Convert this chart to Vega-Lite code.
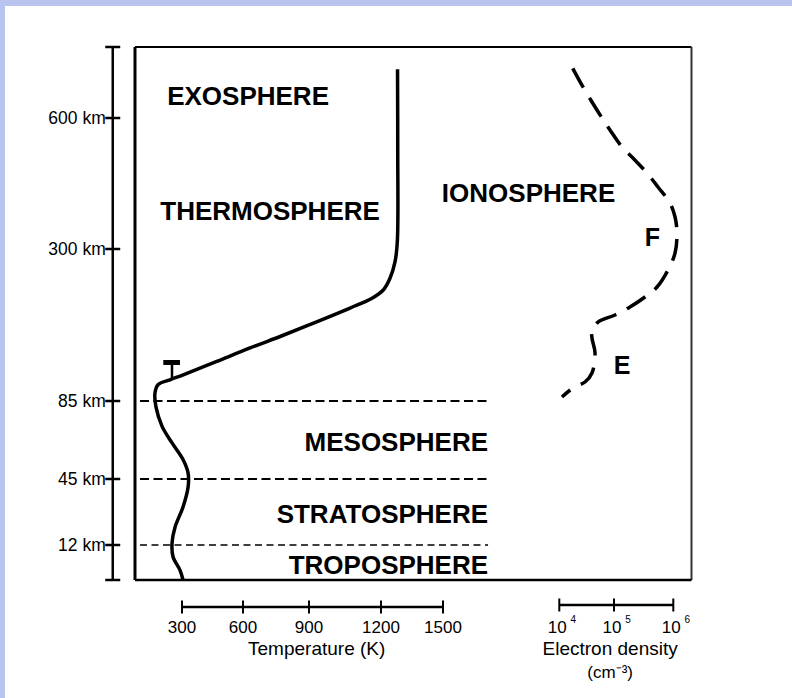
{
  "$schema": "https://vega.github.io/schema/vega-lite/v6.json",
  "width": 787,
  "height": 692,
  "autosize": {"type": "none"},
  "padding": {"left": 5, "top": 6, "right": 0, "bottom": 0},
  "background": "#b9c5ef",
  "config": {"view": {"fill": "white", "stroke": null}, "text": {"font": "Liberation Sans", "color": "black"}},
  "datasets": {
    "one": [{"item": "annotation"}],
    "temp": [
      {"i": 1, "t": 305, "alt": 0}, {"i": 2, "t": 290, "alt": 3.4}, {"i": 3, "t": 256, "alt": 7.9},
      {"i": 4, "t": 251, "alt": 13}, {"i": 5, "t": 266, "alt": 21}, {"i": 6, "t": 305, "alt": 31},
      {"i": 7, "t": 330, "alt": 41}, {"i": 8, "t": 330, "alt": 48}, {"i": 9, "t": 305, "alt": 55},
      {"i": 10, "t": 251, "alt": 63.5}, {"i": 11, "t": 202, "alt": 72}, {"i": 12, "t": 172, "alt": 82},
      {"i": 13, "t": 167, "alt": 96}, {"i": 14, "t": 182, "alt": 108}, {"i": 15, "t": 241, "alt": 115},
      {"i": 16, "t": 306, "alt": 122}, {"i": 17, "t": 471, "alt": 141}, {"i": 18, "t": 632, "alt": 160},
      {"i": 19, "t": 783, "alt": 178}, {"i": 20, "t": 932, "alt": 197}, {"i": 21, "t": 1071, "alt": 216.5},
      {"i": 22, "t": 1161, "alt": 230}, {"i": 23, "t": 1211, "alt": 242}, {"i": 24, "t": 1244, "alt": 259},
      {"i": 25, "t": 1268, "alt": 282}, {"i": 26, "t": 1279, "alt": 317}, {"i": 27, "t": 1281, "alt": 527},
      {"i": 28, "t": 1280, "alt": 710}
    ],
    "dens": [
      {"i": 1, "n": 17600, "alt": 712}, {"i": 2, "n": 27100, "alt": 670}, {"i": 3, "n": 39600, "alt": 636},
      {"i": 4, "n": 60400, "alt": 600}, {"i": 5, "n": 84500, "alt": 572.5}, {"i": 6, "n": 136500, "alt": 533.6},
      {"i": 7, "n": 209000, "alt": 508.4}, {"i": 8, "n": 360000, "alt": 474}, {"i": 9, "n": 552000, "alt": 442},
      {"i": 10, "n": 879000, "alt": 405.3}, {"i": 11, "n": 1070000, "alt": 373.3}, {"i": 12, "n": 1153000, "alt": 336.6},
      {"i": 13, "n": 1070000, "alt": 294.3}, {"i": 14, "n": 815000, "alt": 270.3}, {"i": 15, "n": 531000, "alt": 246.2},
      {"i": 16, "n": 333000, "alt": 232.1}, {"i": 17, "n": 186000, "alt": 218}, {"i": 18, "n": 104000, "alt": 206.6},
      {"i": 19, "n": 51000, "alt": 196.7}, {"i": 20, "n": 39600, "alt": 185.4}, {"i": 21, "n": 39600, "alt": 174.1},
      {"i": 22, "n": 45000, "alt": 152.9}, {"i": 23, "n": 39600, "alt": 124.6}, {"i": 24, "n": 29500, "alt": 111.9},
      {"i": 25, "n": 17800, "alt": 103.4}, {"i": 26, "n": 11200, "alt": 90.7}
    ],
    "altTicks": [
      {"alt": 0, "label": ""}, {"alt": 12, "label": "12 km"}, {"alt": 45, "label": "45 km"},
      {"alt": 85, "label": "85 km"}, {"alt": 300, "label": "300 km"}, {"alt": 600, "label": "600 km"},
      {"alt": 760, "label": ""}
    ],
    "bounds": [{"alt": 85}, {"alt": 45}, {"alt": 12}],
    "tempTicks": [{"t": 300}, {"t": 600}, {"t": 900}, {"t": 1200}, {"t": 1500}],
    "densTicks": [{"n": 10000, "base": "10", "exp": "4"}, {"n": 100000, "base": "10", "exp": "5"}, {"n": 1000000, "base": "10", "exp": "6"}],
    "centerLabels": [
      {"label": "EXOSPHERE", "t": 623, "alt": 629.3},
      {"label": "THERMOSPHERE", "t": 723, "alt": 367},
      {"label": "IONOSPHERE", "t": 1914, "alt": 408.3}
    ],
    "rightLabels": [
      {"label": "MESOSPHERE", "t": 1718, "alt": 59.5},
      {"label": "STRATOSPHERE", "t": 1718, "alt": 22.85},
      {"label": "TROPOSPHERE", "t": 1718, "alt": 2.06}
    ],
    "layerLetters": [
      {"label": "F", "n": 445700, "alt": 306.9},
      {"label": "E", "n": 137500, "alt": 123.2}
    ]
  },
  "resolve": {"scale": {"x": "independent"}},
  "layer": [
    {
      "layer": [
        {
          "data": {"name": "one"},
          "mark": {"type": "rule", "color": "black", "strokeWidth": 3},
          "encoding": {
            "x": {"datum": 68.85, "type": "quantitative", "axis": null, "scale": {"type": "linear", "domain": [300, 600, 900, 1200, 1500], "range": [177, 238, 304, 376, 438], "nice": false, "zero": false}},
            "y": {"datum": 0, "type": "quantitative", "axis": null, "scale": {"type": "linear", "domain": [0, 12, 45, 85, 300, 600, 760], "range": [574, 539, 473, 395, 243, 112, 41], "nice": false, "zero": false}},
            "y2": {"datum": 760}
          }
        },
        {
          "data": {"name": "one"},
          "mark": {"type": "rule", "color": "black", "strokeWidth": 2},
          "encoding": {
            "x": {"datum": 68.85, "type": "quantitative", "axis": null},
            "x2": {"datum": 2702.4},
            "y": {"datum": 760, "type": "quantitative", "axis": null}
          }
        },
        {
          "data": {"name": "one"},
          "mark": {"type": "rule", "color": "#333333", "strokeWidth": 2},
          "encoding": {
            "x": {"datum": 2702.4, "type": "quantitative", "axis": null},
            "y": {"datum": 0, "type": "quantitative", "axis": null},
            "y2": {"datum": 760}
          }
        },
        {
          "data": {"name": "one"},
          "mark": {"type": "rule", "color": "black", "strokeWidth": 2.5},
          "encoding": {
            "x": {"datum": 68.85, "type": "quantitative", "axis": null},
            "x2": {"datum": 2702.4},
            "y": {"datum": 0, "type": "quantitative", "axis": null}
          }
        },
        {
          "data": {"name": "one"},
          "mark": {"type": "rule", "color": "black", "strokeWidth": 2.5},
          "encoding": {
            "x": {"datum": -40.6, "type": "quantitative", "axis": null},
            "y": {"datum": 0, "type": "quantitative", "axis": null},
            "y2": {"datum": 760}
          }
        },
        {
          "data": {"name": "altTicks"},
          "mark": {"type": "tick", "orient": "horizontal", "color": "black", "size": 15, "thickness": 2.5, "opacity": 1},
          "encoding": {
            "x": {"datum": -40.6, "type": "quantitative", "axis": null},
            "y": {"field": "alt", "type": "quantitative", "axis": null}
          }
        },
        {
          "data": {"name": "altTicks"},
          "mark": {"type": "text", "align": "right", "baseline": "middle", "dx": -7, "dy": 1, "fontSize": 17.5},
          "encoding": {
            "x": {"datum": -40.6, "type": "quantitative", "axis": null},
            "y": {"field": "alt", "type": "quantitative", "axis": null},
            "text": {"field": "label"}
          }
        },
        {
          "data": {"name": "bounds"},
          "transform": [{"filter": "datum.alt > 20"}],
          "mark": {"type": "rule", "color": "black", "strokeWidth": 2, "strokeDash": [9, 4.5]},
          "encoding": {
            "x": {"datum": 93.4, "type": "quantitative", "axis": null},
            "x2": {"datum": 1718},
            "y": {"field": "alt", "type": "quantitative", "axis": null}
          }
        },
        {
          "data": {"name": "bounds"},
          "transform": [{"filter": "datum.alt < 20"}],
          "mark": {"type": "rule", "color": "black", "strokeWidth": 1.6, "strokeDash": [7, 4.5]},
          "encoding": {
            "x": {"datum": 93.4, "type": "quantitative", "axis": null},
            "x2": {"datum": 1718},
            "y": {"field": "alt", "type": "quantitative", "axis": null}
          }
        },
        {
          "data": {"name": "temp"},
          "mark": {"type": "line", "color": "black", "strokeWidth": 3.5, "interpolate": "catmull-rom"},
          "encoding": {
            "x": {"field": "t", "type": "quantitative", "axis": null},
            "y": {"field": "alt", "type": "quantitative", "axis": null},
            "order": {"field": "i"}
          }
        },
        {
          "data": {"name": "one"},
          "mark": {"type": "rule", "color": "black", "strokeWidth": 5, "strokeCap": "butt"},
          "encoding": {
            "x": {"datum": 208, "type": "quantitative", "axis": null},
            "x2": {"datum": 290},
            "y": {"datum": 139.5, "type": "quantitative", "axis": null}
          }
        },
        {
          "data": {"name": "one"},
          "mark": {"type": "rule", "color": "black", "strokeWidth": 2.5},
          "encoding": {
            "x": {"datum": 250.8, "type": "quantitative", "axis": null},
            "y": {"datum": 140.2, "type": "quantitative", "axis": null},
            "y2": {"datum": 116.1}
          }
        },
        {
          "data": {"name": "one"},
          "mark": {"type": "rule", "color": "black", "strokeWidth": 2.5},
          "encoding": {
            "x": {"datum": 300, "type": "quantitative", "axis": null},
            "x2": {"datum": 1500},
            "y": {"datum": -9.26, "type": "quantitative", "axis": null}
          }
        },
        {
          "data": {"name": "tempTicks"},
          "mark": {"type": "tick", "orient": "vertical", "color": "black", "size": 13, "thickness": 2, "opacity": 1},
          "encoding": {
            "x": {"field": "t", "type": "quantitative", "axis": null},
            "y": {"datum": -9.26, "type": "quantitative", "axis": null}
          }
        },
        {
          "data": {"name": "tempTicks"},
          "mark": {"type": "text", "align": "center", "baseline": "alphabetic", "dy": 26.3, "fontSize": 17},
          "encoding": {
            "x": {"field": "t", "type": "quantitative", "axis": null},
            "y": {"datum": -9.26, "type": "quantitative", "axis": null},
            "text": {"field": "t", "type": "quantitative", "format": "d"}
          }
        },
        {
          "data": {"name": "one"},
          "mark": {"type": "text", "align": "center", "baseline": "alphabetic", "dy": 48, "fontSize": 19},
          "encoding": {
            "x": {"datum": 932, "type": "quantitative", "axis": null},
            "y": {"datum": -9.26, "type": "quantitative", "axis": null},
            "text": {"value": "Temperature (K)"}
          }
        },
        {
          "data": {"name": "centerLabels"},
          "mark": {"type": "text", "align": "center", "baseline": "alphabetic", "fontSize": 26, "fontWeight": "bold"},
          "encoding": {
            "x": {"field": "t", "type": "quantitative", "axis": null},
            "y": {"field": "alt", "type": "quantitative", "axis": null},
            "text": {"field": "label"}
          }
        },
        {
          "data": {"name": "rightLabels"},
          "mark": {"type": "text", "align": "right", "baseline": "alphabetic", "fontSize": 26, "fontWeight": "bold"},
          "encoding": {
            "x": {"field": "t", "type": "quantitative", "axis": null},
            "y": {"field": "alt", "type": "quantitative", "axis": null},
            "text": {"field": "label"}
          }
        }
      ]
    },
    {
      "layer": [
        {
          "data": {"name": "dens"},
          "mark": {"type": "line", "color": "black", "strokeWidth": 3.5, "strokeDash": [22, 12], "interpolate": "catmull-rom"},
          "encoding": {
            "x": {"field": "n", "type": "quantitative", "axis": null, "scale": {"type": "log", "domain": [10000, 100000, 1000000], "range": [554.3, 609, 668.3], "nice": false}},
            "y": {"field": "alt", "type": "quantitative", "axis": null},
            "order": {"field": "i"}
          }
        },
        {
          "data": {"name": "one"},
          "mark": {"type": "rule", "color": "black", "strokeWidth": 2.5},
          "encoding": {
            "x": {"datum": 10000, "type": "quantitative", "axis": null},
            "x2": {"datum": 1000000},
            "y": {"datum": -8.57, "type": "quantitative", "axis": null}
          }
        },
        {
          "data": {"name": "densTicks"},
          "mark": {"type": "tick", "orient": "vertical", "color": "black", "size": 13, "thickness": 2, "opacity": 1},
          "encoding": {
            "x": {"field": "n", "type": "quantitative", "axis": null},
            "y": {"datum": -8.57, "type": "quantitative", "axis": null}
          }
        },
        {
          "data": {"name": "densTicks"},
          "mark": {"type": "text", "align": "center", "baseline": "alphabetic", "dx": -2, "dy": 28, "fontSize": 17},
          "encoding": {
            "x": {"field": "n", "type": "quantitative", "axis": null},
            "y": {"datum": -8.57, "type": "quantitative", "axis": null},
            "text": {"field": "base"}
          }
        },
        {
          "data": {"name": "densTicks"},
          "mark": {"type": "text", "align": "center", "baseline": "alphabetic", "dx": 14, "dy": 18, "fontSize": 10},
          "encoding": {
            "x": {"field": "n", "type": "quantitative", "axis": null},
            "y": {"datum": -8.57, "type": "quantitative", "axis": null},
            "text": {"field": "exp"}
          }
        },
        {
          "data": {"name": "one"},
          "mark": {"type": "text", "align": "center", "baseline": "alphabetic", "dy": 50, "fontSize": 19},
          "encoding": {
            "x": {"datum": 85000, "type": "quantitative", "axis": null},
            "y": {"datum": -8.57, "type": "quantitative", "axis": null},
            "text": {"value": "Electron density"}
          }
        },
        {
          "data": {"name": "one"},
          "mark": {"type": "text", "align": "center", "baseline": "alphabetic", "dy": 73, "fontSize": 17},
          "encoding": {
            "x": {"datum": 85000, "type": "quantitative", "axis": null},
            "y": {"datum": -8.57, "type": "quantitative", "axis": null},
            "text": {"value": "(cm⁻³)"}
          }
        },
        {
          "data": {"name": "layerLetters"},
          "mark": {"type": "text", "align": "center", "baseline": "alphabetic", "fontSize": 25, "fontWeight": "bold"},
          "encoding": {
            "x": {"field": "n", "type": "quantitative", "axis": null},
            "y": {"field": "alt", "type": "quantitative", "axis": null},
            "text": {"field": "label"}
          }
        }
      ]
    }
  ]
}
